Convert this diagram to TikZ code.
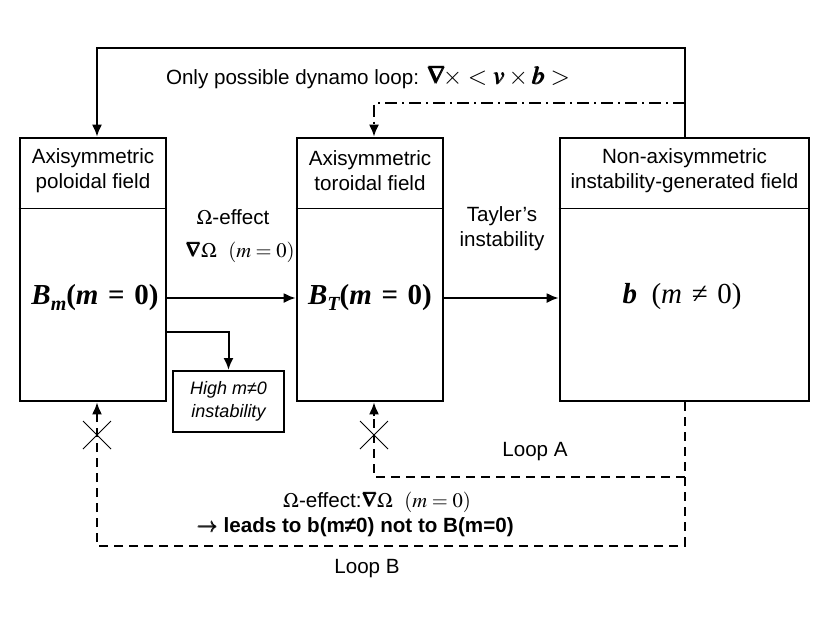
\documentclass[tikz,border=0pt]{standalone}
\usepackage{amsmath}
\usepackage{mathptmx}
\usepackage{bm}
\usepackage[no-math]{fontspec}
\setmainfont{Liberation Sans}
\newfontfamily\tnr{Liberation Serif}
\usetikzlibrary{arrows.meta}
\newcommand\bsub[1]{\raisebox{-0.45ex}{\fontsize{10}{10}\selectfont #1}}
\begin{document}
\begin{tikzpicture}[x=0.5pt,y=-0.5pt,
  box/.style={draw,line width=1.3pt,minimum width=#1,minimum height=131.5pt,inner sep=0pt},
  hbox/.style={draw,line width=1pt,minimum width=55.5pt,minimum height=30.5pt,inner sep=0pt,align=center,font=\fontsize{9}{11.5}\selectfont\itshape},
  arr/.style={line width=1pt,-{Latex[length=6pt,width=5pt]}},
  dsh/.style={line width=1pt,dash pattern=on 4.5pt off 3pt},
  ddot/.style={line width=1pt,dash pattern=on 6pt off 2.5pt on 1pt off 2.5pt},
  lbl/.style={font=\fontsize{10.3}{12.5}\selectfont,align=center,inner sep=0pt},
  mth/.style={font=\fontsize{14.5}{16}\selectfont\tnr,inner sep=0pt},
  thinl/.style={line width=0.5pt}]
\useasboundingbox (0,0) rectangle (830,623);
% boxes
\node[box=73pt] (P) at (93,269.5) {};
\node[box=73pt] (T) at (370,269.5) {};
\node[box=124.5pt] (R) at (684.5,269.5) {};
\coordinate (div) at (0,208);
\draw[thinl] (div -| P.west) -- (div -| P.east);
\draw[thinl] (div -| T.west) -- (div -| T.east);
\draw[thinl] (div -| R.west) -- (div -| R.east);
% titles
\node[lbl] (Pt) at (93,171) {Axisymmetric\\poloidal field};
\node[lbl] (Tt) at (370,171) {Axisymmetric\\toroidal field};
\node[lbl] (Rt) at (684.5,171) {Non-axisymmetric\\instability-generated field};
% contents
\node[mth] (Bm) at (95,298) {\bfseries\itshape B\bsub{m}\upshape(\itshape m\upshape\,\,=\,\,0)};
\node[mth] (BT) at (370,298) {\bfseries\itshape B\bsub{T}\upshape(\itshape m\upshape\,\,=\,\,0)};
\node[mth] (bb) at (682,297) {{\bfseries\itshape b}\ \ (\textit{m}\,\,≠\,\,0)};
% high m box
\node[hbox] (H) at (228.5,401.5) {High m≠0\\instability};
% labels
\node[lbl] (om1) at (233,217) {$\Omega$-effect};
\node[lbl] (om2) at (240,252) {$\bm{\nabla}\Omega\ \ (m=0)$};
\node[lbl] (tay) at (502,229) {Tayler's\\instability};
\node[font=\fontsize{10.3}{13}\selectfont,inner sep=0pt] (top) at (368,77) {Only possible dynamo loop: {\fontsize{12.5}{14}\selectfont$\bm{\nabla}\!\times <\bm{v}\times\bm{b}>$}};
\node[lbl] (la) at (535,452) {Loop A};
\node[lbl] (om3) at (377,502) {$\Omega$-effect:$\bm{\nabla}\Omega\ \ (m=0)$};
\node[lbl,font=\fontsize{10.3}{12.5}\selectfont\bfseries] (lead) at (355,527) {$\bm{\rightarrow}$ leads to b(m≠0) not to B(m=0)};
\node[lbl] (lb) at (367,569) {Loop B};
% main arrows
\draw[arr] (Bm -| P.east) -- (Bm -| T.west);
\draw[arr] (BT -| T.east) -- (BT -| R.west);
\coordinate (hb) at (0,332);
\draw[arr] (hb -| P.east) -| (H.north);
% top loop
\coordinate (topL) at (97,48);
\draw[arr] (R.north) |- (topL) -- (topL |- P.north);
\coordinate (dd) at (374,103);
\draw[arr,ddot] (R.north |- dd) -- (dd) -- (dd |- T.north);
% bottom loops
\coordinate (lbB) at (97,546);
\coordinate (lbA) at (374,477);
\draw[dsh] (R.south) -- (R.south |- lbB) -- (lbB) -- ++(0,-130);
\draw[arr] (lbB) ++(0,-130) -- (lbB |- P.south);
\draw[dsh] (R.south |- lbA) -- (lbA) -- ++(0,-61);
\draw[arr] (lbA) ++(0,-61) -- (lbA |- T.south);
% crosses
\coordinate (c1) at (97,435);
\coordinate (c2) at (374,435);
\draw[thinl] (c1) +(-14,-14) -- +(14,14) (c1) +(-14,14) -- +(14,-14);
\draw[thinl] (c2) +(-14,-14) -- +(14,14) (c2) +(-14,14) -- +(14,-14);
\end{tikzpicture}
\end{document}
